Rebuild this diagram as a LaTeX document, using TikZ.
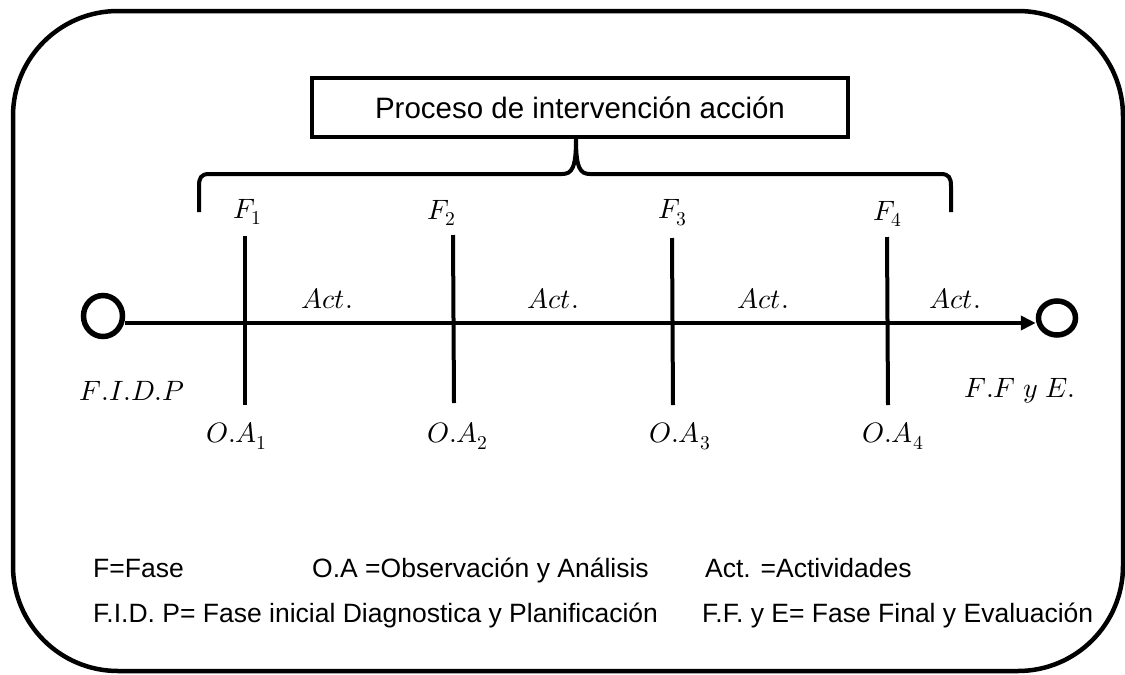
\documentclass[tikz,border=0pt]{standalone}
\usepackage{fontspec}
\usepackage{unicode-math}
\setmainfont{Liberation Sans}
\usetikzlibrary{arrows.meta,shapes.geometric}
\begin{document}
\begin{tikzpicture}[x=1pt,y=-1pt,
  frame/.style={line width=4.5pt, rounded corners=105pt},
  titlebox/.style={draw, line width=4.5pt, minimum width=536pt, minimum height=59pt, inner sep=0pt, font=\fontsize{29.5}{34}\selectfont},
  brace/.style={line width=4pt},
  vline/.style={line width=4pt},
  mline/.style={line width=4pt},
  ring/.style={ellipse, draw, line width=5.5pt, inner sep=0pt},
  mlab/.style={inner sep=0pt, font=\fontsize{28}{32}\selectfont},
  leg/.style={anchor=base west, inner sep=0pt, font=\fontsize{26.5}{30}\selectfont}
]
\useasboundingbox (0,0) rectangle (1125,675);
% outer frame
\draw[frame] (13,11) rectangle (1123,671);
% title
\node[titlebox] (title) at (580,107.5) {Proceso de intervención acción};
% brace
\draw[brace] (199,212) -- (199,186) .. controls (199,178) and (201,174) .. (209,174) -- (562,174)
  .. controls (572,174) and (576,168) .. (576,139)
  .. controls (576,168) and (580,174) .. (590,174) -- (941,174)
  .. controls (949,174) and (951,178) .. (951,186) -- (951,212);
% phase labels
\node[mlab] (f1) at (248,212) {$F_1$};
\node[mlab] (f2) at (442,213) {$F_2$};
\node[mlab] (f3) at (673,213) {$F_3$};
\node[mlab] (f4) at (888,214) {$F_4$};
% vertical lines
\coordinate (t1) at (245,236); \coordinate (b1) at (245,405);
\coordinate (t2) at (453,235); \coordinate (b2) at (454,403);
\coordinate (t3) at (672,238); \coordinate (b3) at (673,405);
\coordinate (t4) at (887,237); \coordinate (b4) at (888,405);
\draw[vline] (t1) -- (b1);
\draw[vline] (t2) -- (b2);
\draw[vline] (t3) -- (b3);
\draw[vline] (t4) -- (b4);
% start / end circles
\node[ring, minimum width=39pt, minimum height=41pt] (start) at (103,316) {};
\node[ring, minimum width=37pt, minimum height=34pt] (end) at (1057,318) {};
\coordinate (ly) at (0,323);
\draw[mline,-{Triangle[length=15pt,width=14pt]}] (start.east |- ly) -- (end.west |- ly);
% activity labels
\node[mlab] (a1) at (327,299) {$Act.$};
\node[mlab] (a2) at (553,299) {$Act.$};
\node[mlab] (a3) at (763,299) {$Act.$};
\node[mlab] (a4) at (955,299) {$Act.$};
% end labels
\node[mlab] (fidp) at (132,391) {$F.I.D.P$};
\node[mlab] (ffe) at (1020,391) {$F.F\ y\ E.$};
% observation labels
\node[mlab] (o1) at (237,436) {$O.A_1$};
\node[mlab] (o2) at (458,436) {$O.A_2$};
\node[mlab] (o3) at (680,436) {$O.A_3$};
\node[mlab] (o4) at (893,436) {$O.A_4$};
% legend
\node[leg] (l1) at (93,577) {F=Fase};
\node[leg] (l2) at (312,577) {O.A =Observación y Análisis};
\node[leg] (l3) at (705,577) {Act. =Actividades};
\node[leg] (l4) at (93,622) {F.I.D. P= Fase inicial Diagnostica y Planificación};
\node[leg] (l5) at (702,622) {F.F. y E= Fase Final y Evaluación};
\end{tikzpicture}
\end{document}
